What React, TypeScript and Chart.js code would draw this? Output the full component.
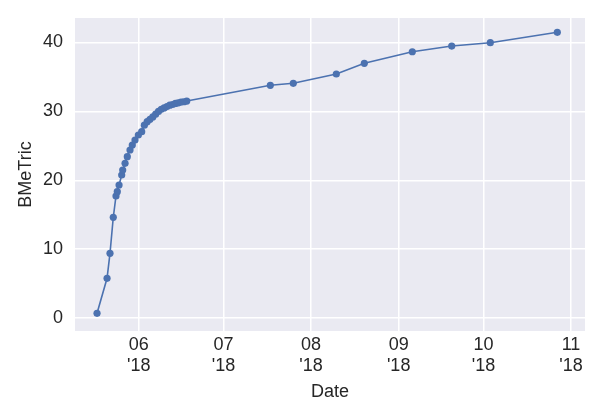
import React, { useEffect, useRef } from "react";
import { Chart, registerables } from "chart.js";

Chart.register(...registerables);

const dates: string[] = [
  "2018-05-17T06:00", "2018-05-20T19:00", "2018-05-21T20:00", "2018-05-23T00:00",
  "2018-05-23T23:00", "2018-05-24T10:00", "2018-05-25T01:00", "2018-05-25T23:30",
  "2018-05-26T08:00", "2018-05-27T04:00", "2018-05-27T23:00", "2018-05-28T22:00",
  "2018-05-29T17:30", "2018-05-30T16:30", "2018-05-31T21:00", "2018-06-02T01:30",
  "2018-06-03T00:00", "2018-06-04T00:00", "2018-06-05T00:00", "2018-06-06T00:00",
  "2018-06-07T00:00", "2018-06-08T00:00", "2018-06-09T00:00", "2018-06-10T00:00",
  "2018-06-11T00:00", "2018-06-12T00:00", "2018-06-13T00:00", "2018-06-14T00:00",
  "2018-06-15T00:00", "2018-06-16T00:00", "2018-06-17T00:00", "2018-06-18T00:00",
  "2018-07-17T14:00", "2018-07-25T17:00", "2018-08-09T22:30", "2018-08-19T20:30",
  "2018-09-05T20:00", "2018-09-19T18:45", "2018-10-03T10:30", "2018-10-27T03:30",
];

const bmetric: number[] = [
  0.68, 5.76, 9.39, 14.62,
  17.71, 18.34, 19.31, 20.76,
  21.49, 22.46, 23.42, 24.39,
  25.12, 25.84, 26.57, 27.05,
  28.0, 28.5, 28.85, 29.2,
  29.6, 30.0, 30.3, 30.5,
  30.7, 30.9, 31.0, 31.15,
  31.25, 31.35, 31.4, 31.5,
  33.79, 34.08, 35.43, 36.98,
  38.66, 39.49, 39.97, 41.48,
];

const xTickDates: string[] = ["2018-06-01", "2018-07-01", "2018-08-01", "2018-09-01", "2018-10-01", "2018-11-01"];
const xTickMonths: string[] = ["06", "07", "08", "09", "10", "11"];
const xTickYear = "'18";
const yTicks: number[] = [0, 10, 20, 30, 40];

const ORIGIN = Date.UTC(2018, 5, 1);
const toDay = (s: string) => (Date.parse(s + (s.length > 10 ? ":00Z" : "T00:00:00Z")) - ORIGIN) / 864e5;

export default function App() {
  const ref = useRef<HTMLCanvasElement | null>(null);

  useEffect(() => {
    document.body.style.margin = "0";
    const canvas = ref.current;
    if (!canvas) return;
    const tickDays = xTickDates.map(toDay);
    const points = dates.map((d, i) => ({ x: toDay(d), y: bmetric[i] }));
    const font = { family: "'Liberation Sans', Arial, sans-serif", size: 18, lineHeight: 1.2 };
    const textColor = "#262626";

    const bgPlugin = {
      id: "bg",
      beforeDraw(chart: any) {
        const { ctx, chartArea } = chart;
        ctx.save();
        ctx.fillStyle = "#EAEAF2";
        ctx.fillRect(chartArea.left, chartArea.top, chartArea.right - chartArea.left, chartArea.bottom - chartArea.top);
        ctx.restore();
      },
    };

    const chart = new Chart(canvas, {
      type: "line",
      data: {
        datasets: [
          {
            data: points,
            borderColor: "#4C72B0",
            backgroundColor: "#4C72B0",
            borderWidth: 1.6,
            pointRadius: 3.6,
            pointBorderWidth: 0,
            pointBackgroundColor: "#4C72B0",
            tension: 0,
            fill: false,
          },
        ],
      },
      options: {
        responsive: false,
        animation: false,
        layout: { padding: { top: 18, right: 15, left: 0, bottom: 0 } },
        plugins: { legend: { display: false }, tooltip: { enabled: false } },
        scales: {
          x: {
            type: "linear",
            min: -22.55,
            max: 157.95,
            afterBuildTicks: (scale: any) => {
              scale.ticks = tickDays.map((v) => ({ value: v }));
            },
            afterFit: (scale: any) => {
              scale.height = 89;
              scale.paddingLeft = 0;
              scale.paddingRight = 0;
            },
            ticks: {
              autoSkip: false,
              maxRotation: 0,
              padding: 3,
              color: textColor,
              font,
              callback: (value: any) => {
                const idx = tickDays.findIndex((t) => Math.abs(t - Number(value)) < 1e-6);
                return idx >= 0 ? [xTickMonths[idx], xTickYear] : "";
              },
            },
            grid: { color: "#FFFFFF", lineWidth: 1.5, drawTicks: false },
            border: { display: false },
            title: { display: true, text: "Date", color: textColor, font, padding: { top: 0, bottom: 17 } },
          },
          y: {
            type: "linear",
            min: -1.89,
            max: 43.56,
            afterBuildTicks: (scale: any) => {
              scale.ticks = yTicks.map((v) => ({ value: v }));
            },
            afterFit: (scale: any) => {
              scale.width = 75;
              scale.paddingTop = 0;
              scale.paddingBottom = 0;
            },
            ticks: { padding: 12, color: textColor, font, callback: (v: any) => String(v) },
            grid: { color: "#FFFFFF", lineWidth: 1.5, drawTicks: false },
            border: { display: false },
            title: { display: true, text: "BMeTric", color: textColor, font, padding: { top: 15, bottom: 0 } },
          },
        },
      },
      plugins: [bgPlugin],
    } as any);

    return () => chart.destroy();
  }, []);

  return (
    <div style={{ width: 600, height: 420, background: "#FFFFFF" }}>
      <canvas ref={ref} width={600} height={420} style={{ display: "block" }} />
    </div>
  );
}
